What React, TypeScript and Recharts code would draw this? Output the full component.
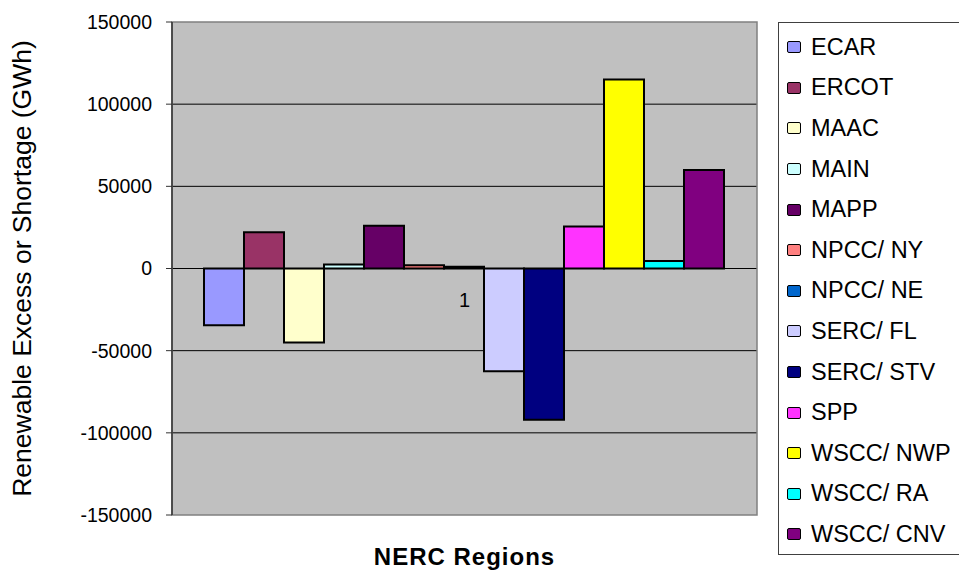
import {
  BarChart,
  Bar,
  XAxis,
  YAxis,
  CartesianGrid,
  Legend,
  ReferenceLine,
  ReferenceArea,
} from "recharts";

const FONT = "'Liberation Sans', Arial, sans-serif";

const categories = ["1"];
const regions = [
  "ECAR",
  "ERCOT",
  "MAAC",
  "MAIN",
  "MAPP",
  "NPCC/ NY",
  "NPCC/ NE",
  "SERC/ FL",
  "SERC/ STV",
  "SPP",
  "WSCC/ NWP",
  "WSCC/ RA",
  "WSCC/ CNV",
];
const values = [-34500, 22000, -45000, 2500, 26000, 2000, 1000, -62500, -92000, 25500, 115000, 4500, 60000];
const colors = [
  "#9999FF",
  "#993366",
  "#FFFFCC",
  "#CCFFFF",
  "#660066",
  "#FF8080",
  "#0066CC",
  "#CCCCFF",
  "#000080",
  "#FF33FF",
  "#FFFF00",
  "#00FFFF",
  "#800080",
];
const yTicks = [-150000, -100000, -50000, 0, 50000, 100000, 150000];
const gridValues = [-100000, -50000, 0, 50000, 100000];

// one row per category, one key per region
const data = categories.map((name) => {
  const row: Record<string, string | number> = { name };
  regions.forEach((_, i) => {
    row[`k${i}`] = values[i];
  });
  return row;
});

function LegendBox({ payload }: any) {
  // keep series order (recharts sorts by name otherwise)
  const items = [...(payload || [])].sort(
    (a: any, b: any) => regions.indexOf(a.value) - regions.indexOf(b.value)
  );
  return (
    <div
      style={{
        boxSizing: "border-box",
        height: 533,
        border: "1px solid #404040",
        borderRight: "none",
        paddingTop: 4,
        fontFamily: FONT,
      }}
    >
      {items.map((entry: any) => (
        <div key={entry.value} style={{ display: "flex", alignItems: "center", height: 40.6 }}>
          <span
            style={{
              display: "inline-block",
              width: 12,
              height: 10,
              background: entry.color,
              border: "1.5px solid #000",
              borderRadius: 2,
              marginLeft: 8,
              marginRight: 10,
            }}
          />
          <span style={{ fontSize: 23.5, color: "#000", whiteSpace: "nowrap" }}>{entry.value}</span>
        </div>
      ))}
    </div>
  );
}

export default function App() {
  return (
    <div style={{ position: "absolute", left: 0, top: 0, width: 959, height: 571, overflow: "hidden", background: "#fff" }}>
      <BarChart
        width={959}
        height={571}
        data={data}
        margin={{ top: 22, right: 202, bottom: 0, left: 0 }}
        barCategoryGap={32}
        barGap={0}
      >
        <CartesianGrid vertical={false} fill="#C0C0C0" stroke="#000" horizontalValues={gridValues} />
        <ReferenceArea y1={-150000} y2={150000} fill="none" stroke="#808080" strokeWidth={1.5} />
        <XAxis
          dataKey="name"
          height={56}
          tick={false}
          tickLine={false}
          axisLine={false}
          label={{
            value: "NERC Regions",
            position: "insideBottom",
            offset: 6,
            fontSize: 24,
            fontWeight: "bold",
            fill: "#000",
            fontFamily: FONT,
            letterSpacing: 1,
          }}
        />
        <YAxis
          width={172}
          domain={[-150000, 150000]}
          ticks={yTicks}
          interval={0}
          tickSize={6}
          tickMargin={14}
          tick={{ fontSize: 19.5, fill: "#000", fontFamily: FONT }}
          axisLine={{ stroke: "#333", strokeWidth: 1.5 }}
          tickLine={{ stroke: "#333" }}
          label={{
            value: "Renewable Excess or Shortage (GWh)",
            angle: -90,
            position: "insideLeft",
            offset: 22,
            fontSize: 26.5,
            fill: "#000",
            fontFamily: FONT,
            style: { textAnchor: "middle" },
          }}
        />
        <ReferenceLine
          y={0}
          strokeOpacity={0}
          label={{ value: categories[0], position: "bottom", offset: 24, fontSize: 20, fill: "#000", fontFamily: FONT }}
        />
        {regions.map((r, i) => (
          <Bar
            key={r}
            dataKey={`k${i}`}
            name={r}
            fill={colors[i]}
            stroke="#000"
            strokeWidth={2}
            isAnimationActive={false}
          />
        ))}
        <Legend
          layout="vertical"
          align="center"
          verticalAlign="middle"
          content={<LegendBox />}
          wrapperStyle={{ left: 778, top: 22, width: 181, height: 533 }}
        />
      </BarChart>
    </div>
  );
}
